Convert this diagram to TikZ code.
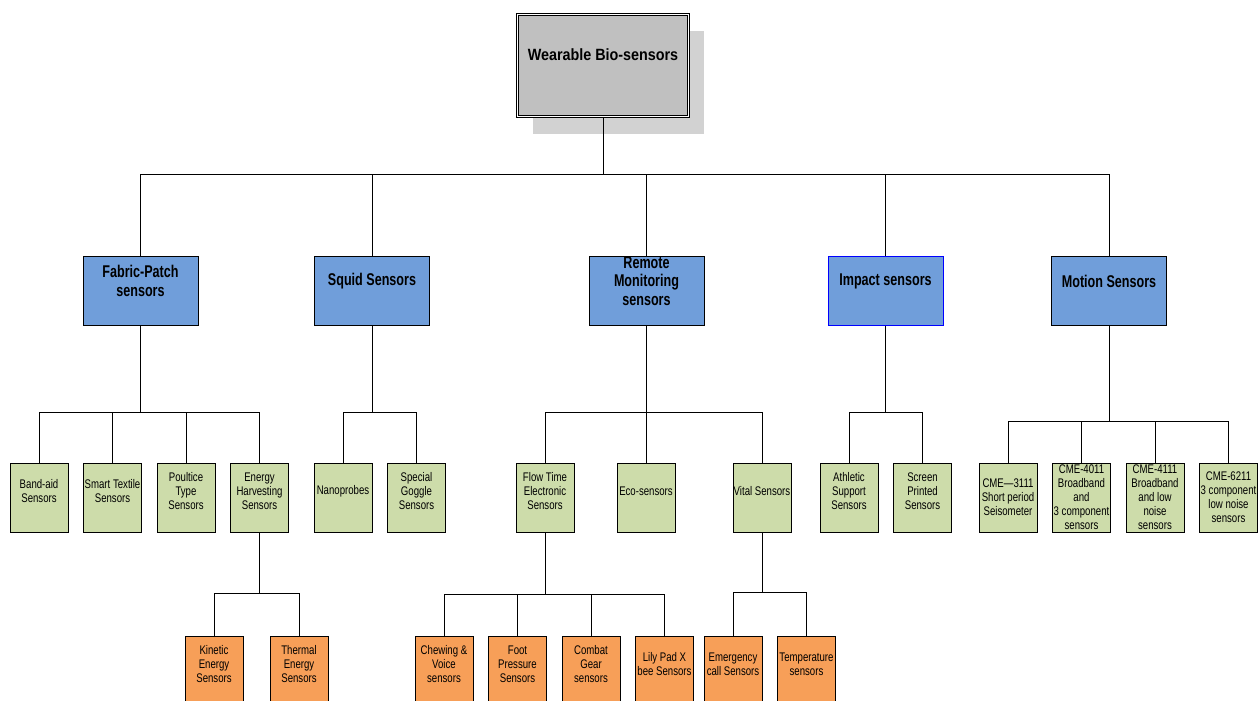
\documentclass[tikz,border=0pt]{standalone}
\usepackage{fontspec}
\setmainfont{Liberation Sans}
\newfontfamily\leaffont[FakeStretch=0.77]{Liberation Sans}
\newfontfamily\catfont[FakeStretch=0.74]{Liberation Sans}
\newfontfamily\rootfont[FakeStretch=0.88]{Liberation Sans}
\usepackage{xcolor}
\usepackage{tikz}
\usetikzlibrary{positioning, shadows}

\definecolor{rootgray}{RGB}{192,192,192}
\definecolor{shadegray}{RGB}{210,210,210}
\definecolor{catblue}{RGB}{112,158,218}
\definecolor{leafgreen}{RGB}{205,220,170}
\definecolor{suborange}{RGB}{247,159,88}

\begin{document}
\begin{tikzpicture}[
  x=1pt, y=-1pt,
  node distance=14.5pt,
  smalltext/.style={font=\leaffont\fontsize{12.5}{14}\selectfont, align=center, inner sep=0pt},
  cattext/.style={font=\catfont\bfseries\fontsize{17}{18.5}\selectfont, align=center, inner sep=0pt},
  box/.style={rectangle, draw, line width=1pt, minimum width=58pt, minimum height=69pt, inner sep=0pt},
  rootbox/.style={rectangle, draw, double, double distance=1.4pt, line width=0.8pt, fill=rootgray, minimum width=171pt, minimum height=102pt, drop shadow={shadow xshift=15pt, shadow yshift=-17pt, fill=shadegray, opacity=1}, label={[cattext, font=\rootfont\bfseries\fontsize{16.3}{18}\selectfont, yshift=10.5pt]center:#1}},
  category/.style={box, fill=catblue, minimum width=115pt, label={[cattext, yshift=9.5pt]center:#1}},
  leaf/.style={box, fill=leafgreen, label={[smalltext, yshift=6.5pt]center:#1}},
  cme/.style={box, fill=leafgreen, label={[smalltext]center:#1}},
  subleaf/.style={box, fill=suborange, label={[smalltext, yshift=6.5pt]center:#1}},
  link/.style={line width=1pt},
]
  \useasboundingbox (0,0) rectangle (1258,701);

  % top
  \node[rootbox={Wearable Bio-sensors}] (root) at (603,65.5) {};

  % first level
  \node[category={Fabric-Patch\\sensors}] (fabric) at (140.5,290.5) {};
  \node[category={Squid Sensors}] (squid) at (372,290.5) {};
  \node[category={Remote\\Monitoring\\sensors}] (remote) at (646.5,290.5) {};
  \node[category={Impact sensors}, draw=blue] (impact) at (885.5,290.5) {};
  \node[category={Motion Sensors}] (motion) at (1109,290.5) {};

  % second level
  \node[leaf={Band-aid\\Sensors}] (bandaid) at (39,497.5) {};
  \node[leaf={Smart Textile\\Sensors}, right=of bandaid] (textile) {};
  \node[leaf={Poultice\\Type\\Sensors}, right=of textile] (poultice) {};
  \node[leaf={Energy\\Harvesting\\Sensors}, right=of poultice] (energy) {};

  \node[leaf={Nanoprobes}] (nano) at (343,497.5) {};
  \node[leaf={Special\\Goggle\\Sensors}, right=of nano] (goggle) {};

  \node[leaf={Flow Time\\Electronic\\Sensors}] (flow) at (545,497.5) {};
  \node[leaf={Eco-sensors}] (eco) at (646,497.5) {};
  \node[leaf={Vital Sensors}] (vital) at (762,497.5) {};

  \node[leaf={Athletic\\Support\\Sensors}] (athletic) at (849,497.5) {};
  \node[leaf={Screen\\Printed\\Sensors}, right=of athletic] (screen) {};

  \node[cme={CME—3111\\Short period\\Seisometer}] (cmea) at (1008,497.5) {};
  \node[cme={CME-4011\\Broadband\\and\\3 component\\sensors}, right=of cmea] (cmeb) {};
  \node[cme={CME-4111\\Broadband\\and low\\noise\\sensors}, right=of cmeb] (cmec) {};
  \node[cme={CME-6211\\3 component\\low noise\\sensors}, right=of cmec] (cmed) {};

  % third level
  \node[subleaf={Kinetic\\Energy\\Sensors}] (kinetic) at (214,670.5) {};
  \node[subleaf={Thermal\\Energy\\Sensors}] (thermal) at (299,670.5) {};

  \node[subleaf={Chewing \&\\Voice\\sensors}] (chewing) at (444,670.5) {};
  \node[subleaf={Foot\\Pressure\\Sensors}, right=of chewing] (foot) {};
  \node[subleaf={Combat\\Gear\\sensors}, right=of foot] (combat) {};
  \node[subleaf={Lily Pad X\\bee Sensors}, right=of combat] (lilypad) {};

  \node[subleaf={Emergency\\call Sensors}] (emergency) at (733,670.5) {};
  \node[subleaf={Temperature\\sensors}, right=of emergency] (temperature) {};

  % connectors
  \draw[link] (root.south) -- ++(0,58) coordinate (rootjoint);
  \foreach \n in {fabric,squid,remote,impact,motion}
    \draw[link] (rootjoint) -| (\n.north);

  \draw[link] (fabric.south) -- ++(0,87) coordinate (fabricjoint);
  \foreach \n in {bandaid,textile,poultice,energy}
    \draw[link] (fabricjoint) -| (\n.north);

  \draw[link] (squid.south) -- ++(0,87) coordinate (squidjoint);
  \foreach \n in {nano,goggle}
    \draw[link] (squidjoint) -| (\n.north);

  \draw[link] (remote.south) -- ++(0,87) coordinate (remotejoint);
  \foreach \n in {flow,eco,vital}
    \draw[link] (remotejoint) -| (\n.north);

  \draw[link] (impact.south) -- ++(0,87) coordinate (impactjoint);
  \foreach \n in {athletic,screen}
    \draw[link] (impactjoint) -| (\n.north);

  \draw[link] (motion.south) -- ++(0,96) coordinate (motionjoint);
  \foreach \n in {cmea,cmeb,cmec,cmed}
    \draw[link] (motionjoint) -| (\n.north);

  \draw[link] (energy.south) -- ++(0,61) coordinate (energyjoint);
  \foreach \n in {kinetic,thermal}
    \draw[link] (energyjoint) -| (\n.north);

  \draw[link] (flow.south) -- ++(0,62) coordinate (flowjoint);
  \foreach \n in {chewing,foot,combat,lilypad}
    \draw[link] (flowjoint) -| (\n.north);

  \draw[link] (vital.south) -- ++(0,60) coordinate (vitaljoint);
  \foreach \n in {emergency,temperature}
    \draw[link] (vitaljoint) -| (\n.north);
\end{tikzpicture}
\end{document}
